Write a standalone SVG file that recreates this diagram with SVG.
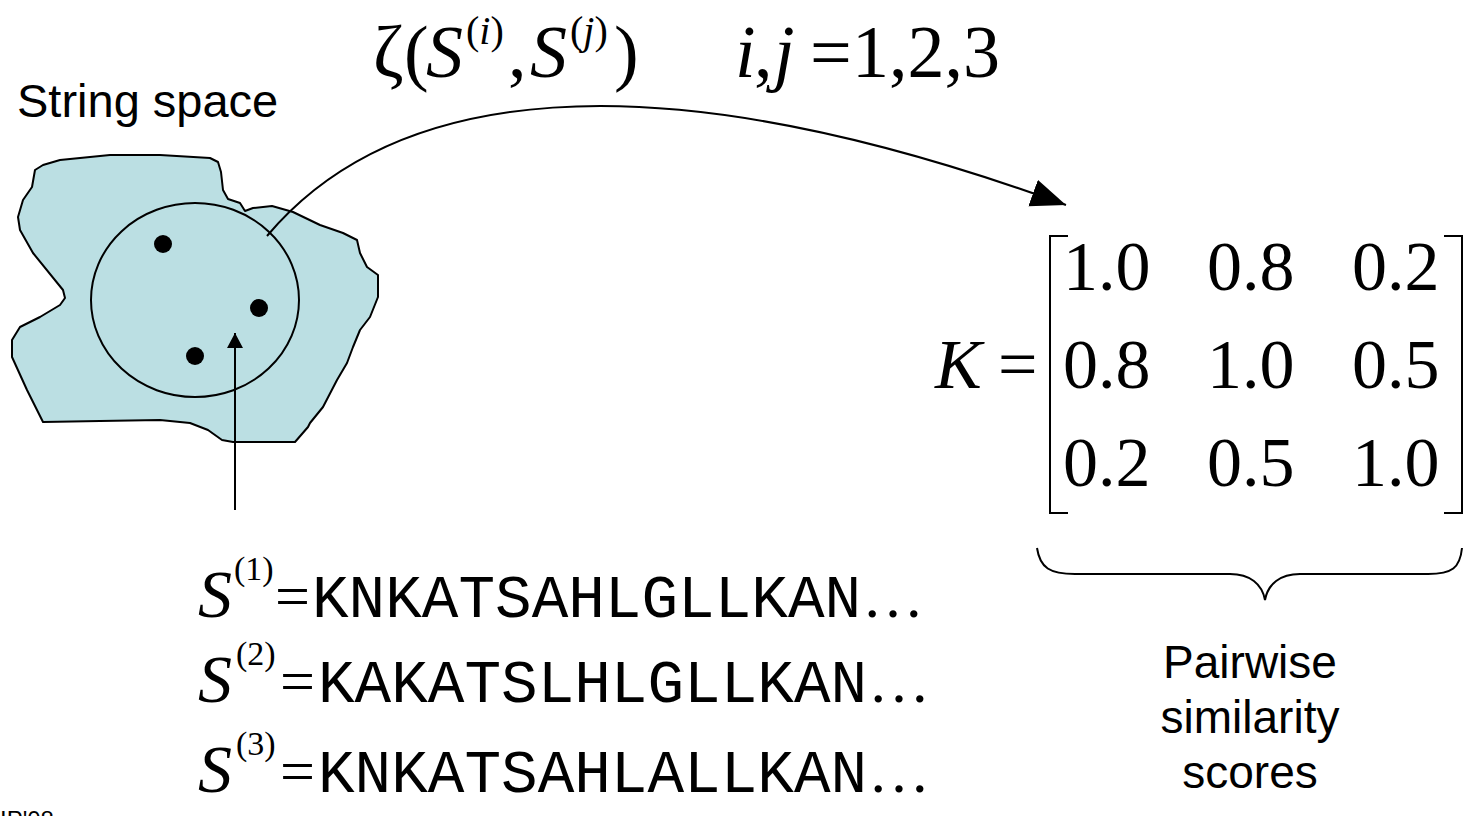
<svg xmlns="http://www.w3.org/2000/svg" width="1470" height="816" viewBox="0 0 1470 816">
<style>
.math{font-family:"Liberation Serif","Times New Roman",serif;fill:#000}
.it{font-style:italic}
.mono{font-family:"Liberation Mono","Courier New",monospace;fill:#000}
.sans{font-family:"Liberation Sans",Arial,sans-serif;fill:#000}
.ln{fill:none;stroke:#000;stroke-width:2}
</style>
<defs>
<marker id="bigHead" markerUnits="userSpaceOnUse" markerWidth="38" markerHeight="30" refX="35" refY="14" orient="auto"><path d="M0,0 L35,14 L0,28 z" fill="#000"/></marker>
<marker id="smallHead" markerUnits="userSpaceOnUse" markerWidth="18" markerHeight="18" refX="15" refY="8" orient="auto"><path d="M0,0 L15,8 L0,16 z" fill="#000"/></marker>
</defs>
<rect width="1470" height="816" fill="#fff"/>

<g id="string-space">
<text class="sans" x="17" y="117" font-size="47">String space</text>
<path d="M43,165 L60,160 L110,155 L160,155 L210,158 L218,162 L221,172 L223,190 L228,199 L240,203 L245,211 L253,208 L272,206 L293,212 L320,225 L343,233 L357,240 L360,253 L367,267 L378,275 L378,297 L370,317 L360,330 L353,347 L347,363 L337,380 L323,407 L310,423 L308,427 L295,442 L233,442 L222,440 L208,430 L190,423 L160,420 L100,421 L43,422 L27,390 L12,357 L12,340 L20,327 L40,317 L60,305 L65,298 L63,290 L33,253 L20,230 L18,217 L23,200 L32,187 L35,170 Z" fill="#BBDFE3" stroke="#000" stroke-width="2" stroke-linejoin="round"/>
<ellipse cx="195" cy="300" rx="104" ry="97" class="ln"/>
<circle cx="163" cy="244" r="9" fill="#000"/>
<circle cx="259" cy="308" r="9" fill="#000"/>
<circle cx="195" cy="356" r="9" fill="#000"/>
</g>

<g id="title">
<text class="math" font-size="74" y="77"><tspan x="373">ζ</tspan><tspan x="404">(</tspan><tspan x="426" class="it">S</tspan><tspan x="508">,</tspan><tspan x="530" class="it">S</tspan><tspan x="614">)</tspan><tspan x="735" class="it">i</tspan><tspan x="754">,</tspan><tspan x="774" class="it">j</tspan><tspan x="810">=</tspan><tspan x="852">1,2,3</tspan></text>
<text class="math" font-size="40" y="44"><tspan x="466">(</tspan><tspan class="it">i</tspan><tspan>)</tspan><tspan x="570">(</tspan><tspan class="it">j</tspan><tspan>)</tspan></text>
</g>

<g id="matrix">
<text class="math it" font-size="70" x="935" y="388">K</text>
<text class="math" font-size="70" x="998" y="388">=</text>
<path d="M1068,236 L1050,236 L1050,513 L1068,513" class="ln" stroke-width="3"/>
<path d="M1444,236 L1462,236 L1462,513 L1444,513" class="ln" stroke-width="3"/>
<text class="math" font-size="70">
<tspan x="1063" y="290">1.0</tspan><tspan x="1207" y="290">0.8</tspan><tspan x="1352" y="290">0.2</tspan>
<tspan x="1063" y="388">0.8</tspan><tspan x="1207" y="388">1.0</tspan><tspan x="1352" y="388">0.5</tspan>
<tspan x="1063" y="486">0.2</tspan><tspan x="1207" y="486">0.5</tspan><tspan x="1352" y="486">1.0</tspan>
</text>
</g>

<g id="brace">
<path d="M1037,548 C1040,568 1050,574 1075,574 L1230,574 C1250,574 1262,584 1265,600 C1268,584 1280,574 1300,574 L1428,574 C1452,574 1460,568 1462,548" class="ln"/>
</g>

<g id="pairwise-label">
<text class="sans" font-size="46" text-anchor="middle"><tspan x="1250" y="678">Pairwise</tspan><tspan x="1250" y="733">similarity</tspan><tspan x="1250" y="788">scores</tspan></text>
</g>

<g id="strings">
<text class="math it" font-size="68" x="198" y="617">S</text>
<text class="math" font-size="34" x="234" y="580">(1)</text>
<text class="math" font-size="62" x="275" y="617">=</text>
<text class="mono" font-size="61" x="312" y="617">KNKATSAHLGLLKAN</text>
<text class="math" font-size="62" x="862" y="617">…</text>

<text class="math it" font-size="68" x="198" y="702">S</text>
<text class="math" font-size="34" x="236" y="665">(2)</text>
<text class="math" font-size="62" x="280" y="702">=</text>
<text class="mono" font-size="61" x="318" y="702">KAKATSLHLGLLKAN</text>
<text class="math" font-size="62" x="868" y="702">…</text>

<text class="math it" font-size="68" x="198" y="792">S</text>
<text class="math" font-size="34" x="236" y="755">(3)</text>
<text class="math" font-size="62" x="280" y="792">=</text>
<text class="mono" font-size="61" x="318" y="792">KNKATSAHLALLKAN</text>
<text class="math" font-size="62" x="868" y="792">…</text>
</g>

<g id="footer">
<text class="sans" font-size="24" x="0" y="828">IP'08</text>
</g>

<g id="connectors">
<path d="M267,236 C390,90 640,50 1066,205" class="ln" marker-end="url(#bigHead)"/>
<path d="M235,510 L235,333" class="ln" marker-end="url(#smallHead)"/>
</g>
</svg>
